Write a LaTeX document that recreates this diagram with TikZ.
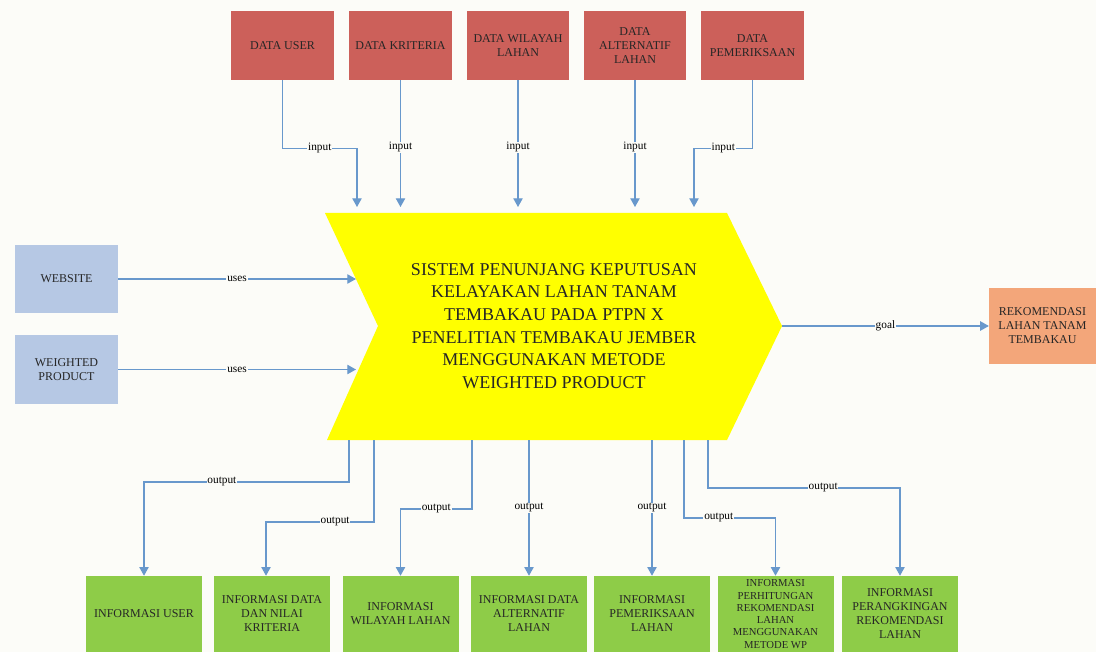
\documentclass[tikz,border=0pt]{standalone}
\usepackage{fontspec}
\setmainfont{Liberation Serif}
\usetikzlibrary{arrows.meta}
\definecolor{datared}{RGB}{204,96,90}
\definecolor{webblue}{RGB}{182,200,228}
\definecolor{goalorange}{RGB}{243,166,122}
\definecolor{infogreen}{RGB}{142,204,72}
\definecolor{flowblue}{RGB}{104,152,204}
\definecolor{sysyellow}{RGB}{255,255,0}
\definecolor{paper}{RGB}{252,252,248}
\tikzset{
    x=0.75pt, y=-0.75pt,
    box/.style={rectangle, align=center, inner sep=1pt, text=black!85},
    databox/.style={box, fill=datared, minimum width=77pt, minimum height=51.75pt,
        font=\fontsize{9}{10.5}\selectfont},
    webbox/.style={box, fill=webblue, minimum width=77pt, minimum height=51pt,
        font=\fontsize{9}{10.5}\selectfont},
    goalbox/.style={box, fill=goalorange, minimum width=80pt, minimum height=57pt,
        font=\fontsize{9}{10.5}\selectfont},
    infobox/.style={box, fill=infogreen, minimum width=87pt, minimum height=57pt,
        font=\fontsize{9}{10.5}\selectfont},
    flow/.style={draw=flowblue, line width=0.9pt, -{Triangle[width=7pt,length=6.5pt]}},
    lbl/.style={fill=paper, inner sep=0.6pt, font=\fontsize{8.5}{9}\selectfont, text=black}
}

\begin{document}
\begin{tikzpicture}
    % canvas
    \fill[paper] (0,0) rectangle (1096,652);
    \useasboundingbox (0,0) rectangle (1096,652);

    % the system chevron
    \fill[sysyellow] (325,213) -- (727,213) -- (782,326) -- (727,440)
        -- (327,440) -- (378,326) -- cycle;
    \node[align=center, font=\fontsize{13.5}{17}\selectfont, text=black!85] (sys) at (554,326)
        {SISTEM PENUNJANG KEPUTUSAN\\KELAYAKAN LAHAN TANAM\\TEMBAKAU PADA PTPN X\\
         PENELITIAN TEMBAKAU JEMBER\\MENGGUNAKAN METODE\\WEIGHTED PRODUCT};

    % data sources
    \node[databox] (d1) at (282.5,45.5) {DATA USER};
    \node[databox] (d2) at (400.5,45.5) {DATA KRITERIA};
    \node[databox] (d3) at (518,45.5) {DATA WILAYAH\\LAHAN};
    \node[databox] (d4) at (635,45.5) {DATA\\ALTERNATIF\\LAHAN};
    \node[databox] (d5) at (752.5,45.5) {DATA\\PEMERIKSAAN};

    \node[webbox] (w1) at (66.5,279) {WEBSITE};
    \node[webbox] (w2) at (66.5,369.5) {WEIGHTED\\PRODUCT};

    \node[goalbox] (rek) at (1042.5,326) {REKOMENDASI\\LAHAN TANAM\\TEMBAKAU};

    % results
    \node[infobox] (i1) at (144,614) {INFORMASI USER};
    \node[infobox] (i2) at (272,614) {INFORMASI DATA\\DAN NILAI\\KRITERIA};
    \node[infobox] (i3) at (400.5,614) {INFORMASI\\WILAYAH LAHAN};
    \node[infobox] (i4) at (529,614) {INFORMASI DATA\\ALTERNATIF\\LAHAN};
    \node[infobox] (i5) at (652,614) {INFORMASI\\PEMERIKSAAN\\LAHAN};
    \node[infobox, font=\fontsize{8}{9.2}\selectfont] (i6) at (775.5,614)
        {INFORMASI\\PERHITUNGAN\\REKOMENDASI\\LAHAN\\MENGGUNAKAN\\METODE WP};
    \node[infobox] (i7) at (900,614) {INFORMASI\\PERANGKINGAN\\REKOMENDASI\\LAHAN};

    % ends on the chevron
    \coordinate (in1) at (357,207);
    \coordinate (in2) at (400.5,207);
    \coordinate (in3) at (518,207);
    \coordinate (in4) at (635,207);
    \coordinate (in5) at (694,207);
    \coordinate (u1) at (356,279);
    \coordinate (u2) at (356,369.5);
    \coordinate (tip) at (782,326);
    \coordinate (o1) at (349,440);
    \coordinate (o2) at (374,440);
    \coordinate (o3) at (472,440);
    \coordinate (o4) at (529,440);
    \coordinate (o5) at (652,440);
    \coordinate (o6) at (684,440);
    \coordinate (o7) at (708,440);

    \draw[flow] (d1.south) -- ++(0,68) -| (in1) node[lbl, pos=0.25]{input};
    \draw[flow] (d2) -- (in2) node[lbl, pos=0.53]{input};
    \draw[flow] (d3) -- (in3) node[lbl, pos=0.53]{input};
    \draw[flow] (d4) -- (in4) node[lbl, pos=0.53]{input};
    \draw[flow] (d5.south) -- ++(0,68) -| (in5) node[lbl, pos=0.25]{input};

    \draw[flow] (w1) -- (u1) node[lbl, midway]{uses};
    \draw[flow] (w2) -- (u2) node[lbl, midway]{uses};
    \draw[flow] (tip) -- (rek) node[lbl, midway]{goal};

    \draw[flow] (o1) -- ++(0,42) -| (i1) node[lbl, pos=0.31]{output};
    \draw[flow] (o2) -- ++(0,82) -| ([xshift=-4.5pt]i2.north) node[lbl, pos=0.18]{output};
    \draw[flow] (o3) -- ++(0,69) -| (i3) node[lbl, pos=0.25]{output};
    \draw[flow] (o4) -- (i4) node[lbl, midway]{output};
    \draw[flow] (o5) -- (i5) node[lbl, midway]{output};
    \draw[flow] (o6) -- ++(0,78) -| (i6) node[lbl, pos=0.19]{output};
    \draw[flow] (o7) -- ++(0,48) -| (i7) node[lbl, pos=0.3]{output};

\end{tikzpicture}
\end{document}
